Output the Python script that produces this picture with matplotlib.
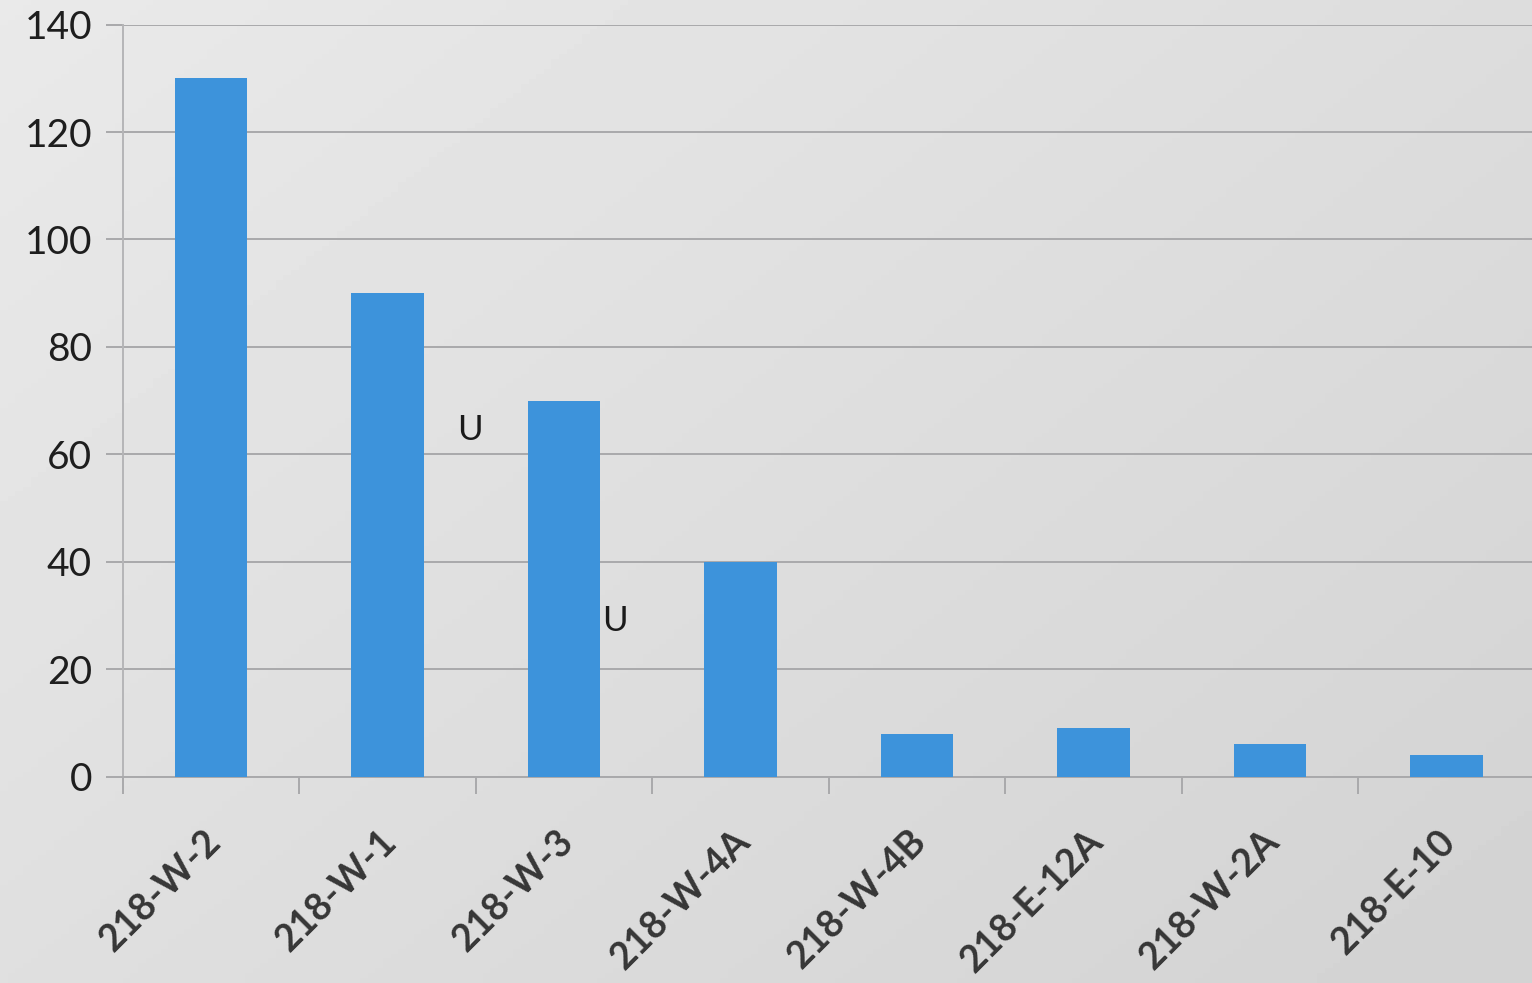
import numpy as np
import matplotlib
matplotlib.use("Agg")
import matplotlib.pyplot as plt
import matplotlib.transforms as mtransforms

# values
wells = ["218-W-2", "218-W-1", "218-W-3", "218-W-4A", "218-W-4B", "218-E-12A", "218-W-2A", "218-E-10"]
values = [130, 90, 70, 40, 8, 9, 6, 4]
yticks = [0, 20, 40, 60, 80, 100, 120, 140]

# "U" qualifier notes (bar index, offset, y value)
notes = [(1, 0.47, 64.5, "U"), (2, 0.29, 29.0, "U")]

plt.rcParams['font.family'] = ['Lato', 'DejaVu Sans']

fig = plt.figure(figsize=(15.32, 9.83), dpi=100)

# scanned paper background: light top-left, darker bottom-right
bg = fig.add_axes([0, 0, 1, 1], zorder=-10)
gx, gy = np.meshgrid(np.linspace(0, 1, 200), np.linspace(0, 1, 200))
shade = 0.915 - 0.05 * gx - 0.04 * gy
bg.imshow(shade, cmap='gray', vmin=0, vmax=1, aspect='auto', extent=[0, 1, 1, 0])
bg.set_axis_off()

ax = fig.add_axes([0.080, 0.210, 0.924, 0.765])
ax.patch.set_alpha(0)

x = np.arange(len(wells))
ax.bar(x, values, width=0.41, color='#3d93db', zorder=3)

for i, dx, y, s in notes:
    ax.text(i + dx, y, s, fontsize=25, ha='center', va='center', color='#1a1a1a')

ax.set_xlim(-0.5, len(wells) - 0.48)
ax.set_ylim(0, 140)
ax.set_yticks(yticks)
ax.yaxis.grid(True, color='#a9a9ab', lw=1.4, zorder=0)
ax.tick_params(axis='y', length=12, color='#a9a9ab', width=1.4, labelsize=28, pad=10,
               labelcolor='#1e1e1e')

# category boundary ticks on x axis
ax.set_xticks(x - 0.5, minor=False)
ax.set_xticklabels([])
ax.tick_params(axis='x', length=12, color='#a9a9ab', width=1.4)
ax.set_xticks(x, minor=True)
ax.set_xticklabels(wells, minor=True, rotation=45, ha='right', rotation_mode='anchor',
                   fontsize=27, fontweight='bold', color='#363636')
ax.tick_params(axis='x', which='minor', length=0, pad=34)
shift = mtransforms.ScaledTranslation(-0.08, 0, fig.dpi_scale_trans)
for lab in ax.get_xticklabels(minor=True):
    lab.set_transform(lab.get_transform() + shift)

for side in ['top', 'right']:
    ax.spines[side].set_visible(False)
ax.spines['left'].set_color('#b5b5b7')
ax.spines['left'].set_linewidth(1.4)
ax.spines['bottom'].set_color('#a9a9ab')
ax.spines['bottom'].set_linewidth(1.4)

fig.savefig('out.png', dpi=100)
